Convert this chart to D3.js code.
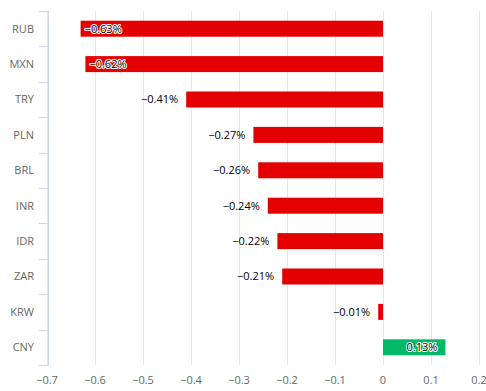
<!DOCTYPE html>
<html><head><meta charset="utf-8">
<script src="https://cdnjs.cloudflare.com/ajax/libs/d3/7.8.5/d3.min.js"></script>
<style>body{margin:0;background:#fff}svg{display:block}</style>
</head><body>
<svg id="c" width="486" height="391"></svg>
<script>
const categories = ["RUB","MXN","TRY","PLN","BRL","INR","IDR","ZAR","KRW","CNY"];
const values = [-0.63,-0.62,-0.41,-0.27,-0.26,-0.24,-0.22,-0.21,-0.01,0.13];
const xTicks = [-0.7,-0.6,-0.5,-0.4,-0.3,-0.2,-0.1,0,0.1,0.2];
const negColor = "#e50000", posColor = "#00ba6a";
const font = "'Open Sans', 'DejaVu Sans', sans-serif";

const svg = d3.select("#c");
const x = d3.scaleLinear().domain([-0.7,0.2]).range([47,479]);
const y = d3.scaleBand().domain(categories).range([11,365]).paddingInner(0).paddingOuter(0);

// grid
svg.append("g").selectAll("line").data(xTicks).join("line")
  .attr("x1",d=>x(d)+0.5).attr("x2",d=>x(d)+0.5).attr("y1",11).attr("y2",365)
  .attr("stroke","#e6e6e6").attr("stroke-width",1);

// category axis line and ticks
const ya = svg.append("g");
ya.append("line").attr("x1",48.5).attr("x2",48.5).attr("y1",11).attr("y2",365).attr("stroke","#ccd6eb");
const bounds = categories.map(c=>y(c)).concat([365]);
ya.selectAll("line.t").data(bounds).join("line").attr("class","t")
  .attr("x1",39).attr("x2",48.5).attr("y1",d=>Math.round(d)+0.5).attr("y2",d=>Math.round(d)+0.5).attr("stroke","#ccd6eb");
ya.selectAll("text").data(categories).join("text")
  .attr("x",34).attr("y",d=>y(d)+y.bandwidth()/2).attr("dy","0.35em")
  .attr("text-anchor","end").attr("font-family",font).attr("font-size","11px").attr("fill","#666")
  .text(d=>d);

// x axis labels
svg.append("g").selectAll("text").data(xTicks).join("text")
  .attr("x",d=>x(d)).attr("y",384).attr("text-anchor","middle")
  .attr("font-family",font).attr("font-size","11px").attr("fill","#666")
  .text(d=>d3.format("")(d).replace("-","\u2212"));

// bars
const barH = 16;
const data = categories.map((c,i)=>({c,v:values[i]}));
svg.append("g").selectAll("rect").data(data).join("rect")
  .attr("x",d=>x(Math.min(0,d.v))).attr("width",d=>Math.abs(x(d.v)-x(0)))
  .attr("y",d=>y(d.c)+y.bandwidth()/2-barH/2).attr("height",barH)
  .attr("fill",d=>d.v<0?negColor:posColor);

// labels
const lg = svg.append("g");
data.forEach(d=>{
  const txt = (d.v<0?"\u2212":"") + Math.abs(d.v).toFixed(2) + "%";
  const cy = y(d.c)+y.bandwidth()/2;
  const t = lg.append("text").attr("y",cy).attr("dy","0.35em")
    .attr("font-family",font).attr("font-size","11px").attr("fill","#000")
    .attr("stroke","#fff").attr("stroke-width",2).attr("stroke-linejoin","round")
    .attr("paint-order","stroke").text(txt);
  const w = t.node().getComputedTextLength();
  if (d.v<0){
    const bx = x(d.v);
    if (bx - 8 - w < 49) { t.attr("x",bx+4).attr("text-anchor","start"); }
    else { t.attr("x",bx-8).attr("text-anchor","end").attr("stroke","none"); }
  } else {
    t.attr("x",x(d.v)-8).attr("text-anchor","end");
  }
});
</script>
</body></html>
